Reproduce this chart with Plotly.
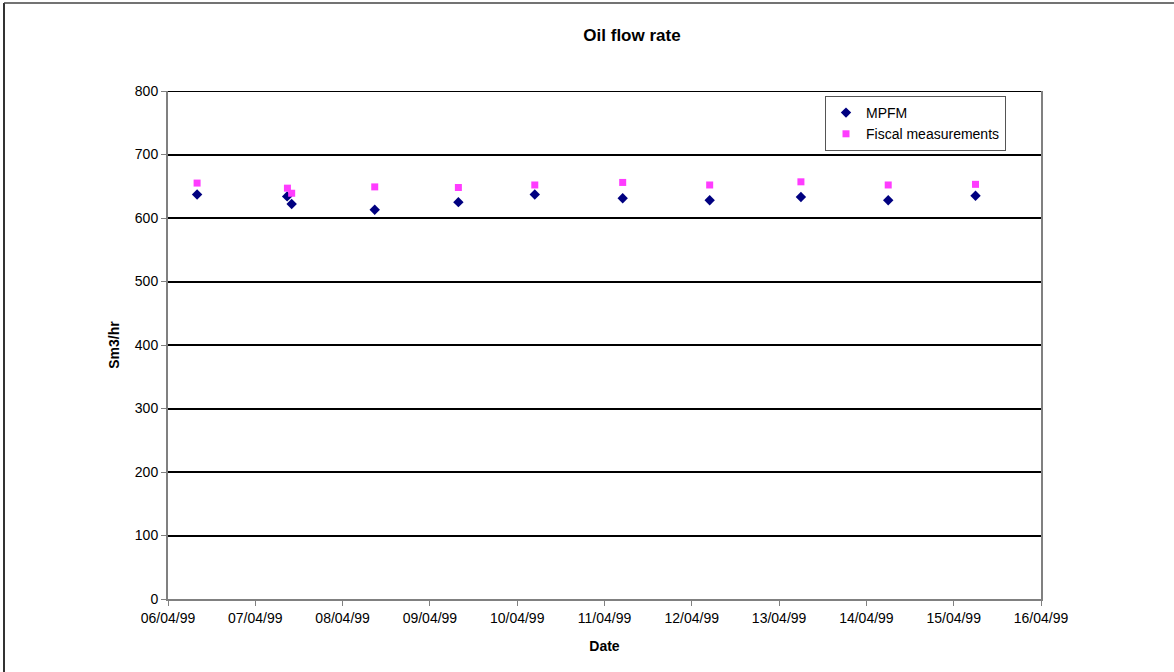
import plotly.graph_objects as go

# Oil flow rate: multiphase flow meter vs fiscal measurements
mpfm_time = [
    "1999-04-06 08:00", "1999-04-07 08:45", "1999-04-07 10:00",
    "1999-04-08 08:50", "1999-04-09 07:50", "1999-04-10 04:50",
    "1999-04-11 05:00", "1999-04-12 04:55", "1999-04-13 06:00",
    "1999-04-14 06:00", "1999-04-15 06:00",
]
mpfm_rate = [637, 634, 622, 613, 625, 637, 631, 628, 633, 628, 635]

fiscal_time = [
    "1999-04-06 08:00", "1999-04-07 08:50", "1999-04-07 10:00",
    "1999-04-08 08:50", "1999-04-09 07:50", "1999-04-10 04:50",
    "1999-04-11 05:00", "1999-04-12 04:55", "1999-04-13 06:00",
    "1999-04-14 06:00", "1999-04-15 06:00",
]
fiscal_rate = [655, 647, 639, 649, 648, 652, 656, 652, 657, 652, 653]

date_ticks = [f"1999-04-{d:02d}" for d in range(6, 17)]
date_labels = [f"{d:02d}/04/99" for d in range(6, 17)]
rate_ticks = list(range(0, 801, 100))

W, H = 1174, 672
L, R, T, B = 168, 133, 91, 73
pw, ph = W - L - R, H - T - B

fig = go.Figure()
fig.add_trace(go.Scatter(
    x=mpfm_time, y=mpfm_rate, mode="markers", name="MPFM",
    marker=dict(symbol="diamond", size=8, color="#000080"),
))
fig.add_trace(go.Scatter(
    x=fiscal_time, y=fiscal_rate, mode="markers", name="Fiscal measurements",
    marker=dict(symbol="square", size=7, color="#ff3cff"),
))

font = dict(family="Arial, Liberation Sans, sans-serif", color="black")

fig.update_layout(
    width=W, height=H,
    margin=dict(l=L, r=R, t=T, b=B),
    paper_bgcolor="white", plot_bgcolor="white",
    font=dict(size=14, **font),
    title=dict(text="<b>Oil flow rate</b>", x=(632 - L) / pw, xref="paper",
               xanchor="center", y=1 - 35 / H, yanchor="middle",
               font=dict(size=17, **font)),
    showlegend=True,
    legend=dict(x=(825 - L) / pw, y=1 - (96 - T) / ph, xanchor="left", yanchor="top",
                bgcolor="white", bordercolor="#555555", borderwidth=1,
                font=dict(size=14, **font), itemwidth=30,
                tracegroupgap=0),
    xaxis=dict(
        type="date", range=["1999-04-06", "1999-04-16"],
        tickvals=date_ticks, ticktext=date_labels,
        ticks="outside", ticklen=5, tickcolor="#808080",
        showline=True, linecolor="#808080", linewidth=2,
        showgrid=False, zeroline=False,
        tickfont=dict(size=14, **font),
        title=dict(text="<b>Date</b>", font=dict(size=14, **font), standoff=16),
    ),
    yaxis=dict(
        range=[0, 800], tickvals=rate_ticks,
        ticks="outside", ticklen=5, tickcolor="#808080",
        showline=True, mirror=True, linecolor="#808080", linewidth=2,
        showgrid=True, gridcolor="black", gridwidth=2, zeroline=False,
        tickfont=dict(size=14, **font),
        title=dict(text="<b>Sm3/hr</b>", font=dict(size=14, **font), standoff=12),
    ),
    shapes=[
        # top gridline at the axis maximum
        dict(type="line", xref="paper", yref="y", x0=0, x1=1,
             y0=rate_ticks[-1], y1=rate_ticks[-1],
             line=dict(color="black", width=2), layer="below"),
        # outer chart frame (left and top edges)
        dict(type="line", xref="paper", yref="paper",
             x0=(4 - L) / pw, x1=(4 - L) / pw, y0=1 + (T - 3) / ph, y1=-(B + 5) / ph,
             line=dict(color="#333333", width=2)),
        dict(type="line", xref="paper", yref="paper",
             x0=(4 - L) / pw, x1=(W + 5 - L) / pw, y0=1 + (T - 3) / ph, y1=1 + (T - 3) / ph,
             line=dict(color="#444444", width=1.5)),
    ],
)

fig.write_html("out.html")
